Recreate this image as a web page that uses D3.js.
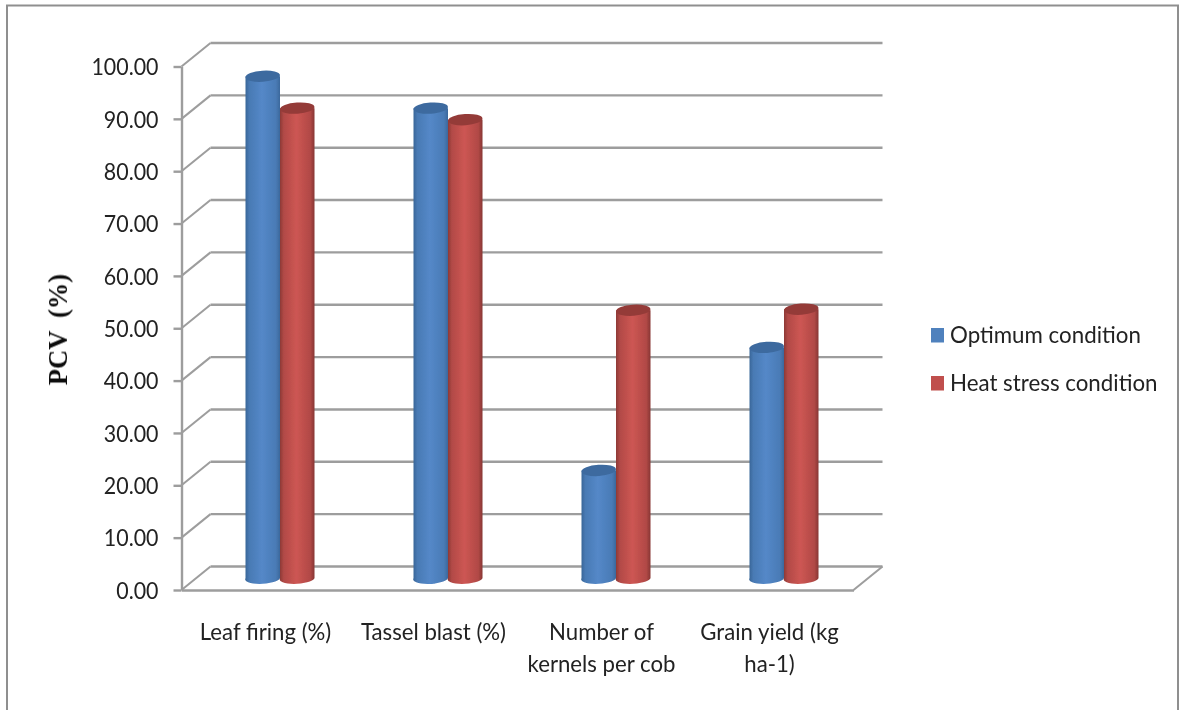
<!DOCTYPE html>
<html>
<head>
<meta charset="utf-8">
<title>PCV chart</title>
<script src="https://cdnjs.cloudflare.com/ajax/libs/d3/7.8.5/d3.min.js"></script>
<style>
  body { margin: 0; background: #fff; }
  svg { display: block; }
</style>
</head>
<body>
<div id="chart-area"></div>
<script>
// values
var categories = ["Leaf firing (%)", "Tassel blast (%)", "Number of kernels per cob", "Grain yield (kg ha-1)"];
var categoryLines = [["Leaf firing (%)"], ["Tassel blast (%)"], ["Number of", "kernels per cob"], ["Grain yield (kg", "ha-1)"]];
var seriesNames = ["Optimum condition", "Heat stress condition"];
var optimum = [95.9, 89.8, 20.6, 44.1];
var heatStress = [89.8, 87.6, 51.2, 51.4];
var yTicks = [0, 10, 20, 30, 40, 50, 60, 70, 80, 90, 100];

var svgWidth = 1179;
var svgHeight = 710;
var font = "Lato, 'Open Sans', sans-serif";
var fontSize = 23;
var gridColor = "#9d9d9d";
var textColor = "#222";

// 3d offset of the back wall, bars stand half way
var depthX = 29;
var depthY = 23.5;

var svg = d3.select("#chart-area").append("svg")
	.attr("width", svgWidth)
	.attr("height", svgHeight);

var defs = svg.append("defs");
defs.append("filter").attr("id", "soft")
	.append("feGaussianBlur").attr("stdDeviation", 0.5);

function addGradient(id, edgeL, mid, edgeR) {
	var g = defs.append("linearGradient").attr("id", id);
	g.append("stop").attr("offset", "0%").attr("stop-color", edgeL);
	g.append("stop").attr("offset", "12%").attr("stop-color", d3.interpolateRgb(edgeL, mid)(0.6));
	g.append("stop").attr("offset", "48%").attr("stop-color", mid);
	g.append("stop").attr("offset", "88%").attr("stop-color", d3.interpolateRgb(edgeR, mid)(0.6));
	g.append("stop").attr("offset", "100%").attr("stop-color", edgeR);
}
addGradient("blueBar", "#386596", "#5488c8", "#3b689c");
addGradient("redBar", "#8a3735", "#cd5653", "#873533");

var seriesStyle = [
	{ fill: "url(#blueBar)", top: "#3e6b9f", swatch: "#4f81bd", values: optimum },
	{ fill: "url(#redBar)", top: "#943b39", swatch: "#c0504d", values: heatStress }
];

// the reference font is narrower than Lato, squeeze text to fit
function squeeze(selection, factor) {
	selection.each(function() {
		d3.select(this)
			.attr("lengthAdjust", "spacingAndGlyphs")
			.attr("textLength", this.getComputedTextLength() * factor);
	});
}

// frame, open at the bottom
svg.append("path")
	.attr("d", "M7,710V5.5H1178V710")
	.attr("fill", "none")
	.attr("stroke", "#8f8f8f")
	.attr("stroke-width", 2);

var chart = svg.append("g").attr("filter", "url(#soft)");

// scales
var yScale = d3.scaleLinear().domain([0, 100]).range([590, 66.5]);
var xFront = d3.scaleBand().domain(categories).range([181.5, 853.5]);
var xSeries = d3.scaleBand().domain(seriesNames).range([49.5, 118.5]);

// back wall gridlines and the slanted side lines
var grid = chart.append("g").attr("class", "grid");
grid.selectAll("line.back").data(yTicks).enter().append("line")
	.attr("class", "back")
	.attr("x1", xFront.range()[0] + depthX)
	.attr("x2", xFront.range()[1] + depthX)
	.attr("y1", d => yScale(d) - depthY)
	.attr("y2", d => yScale(d) - depthY)
	.attr("stroke", gridColor)
	.attr("stroke-width", 2.4);
grid.selectAll("line.side").data(yTicks).enter().append("line")
	.attr("class", "side")
	.attr("x1", xFront.range()[0])
	.attr("x2", xFront.range()[0] + depthX)
	.attr("y1", d => yScale(d))
	.attr("y2", d => yScale(d) - depthY)
	.attr("stroke", gridColor)
	.attr("stroke-width", 2);
grid.append("line")
	.attr("x1", xFront.range()[1])
	.attr("x2", xFront.range()[1] + depthX)
	.attr("y1", yScale(0))
	.attr("y2", yScale(0) - depthY)
	.attr("stroke", gridColor)
	.attr("stroke-width", 2);

// y axis
var yAxisCall = d3.axisLeft(yScale)
	.tickValues(yTicks)
	.tickFormat(d => d.toFixed(2))
	.tickSize(8)
	.tickSizeOuter(0)
	.tickPadding(15);
var yAxis = chart.append("g")
	.attr("class", "y-axis")
	.attr("transform", "translate(" + xFront.range()[0] + ",0)")
	.call(yAxisCall);
yAxis.select(".domain").attr("stroke", gridColor).attr("stroke-width", 2.4);
yAxis.selectAll(".tick line").attr("stroke", gridColor).attr("stroke-width", 2.4);
yAxis.selectAll("text")
	.attr("font-family", font)
	.attr("font-size", fontSize)
	.attr("fill", textColor)
	.attr("dy", "0.36em")
	.call(squeeze, 0.93);

// x axis, labels are broken over lines by hand
var xAxisCall = d3.axisBottom(xFront).tickSize(0).tickSizeOuter(0).tickFormat("");
var xAxis = chart.append("g")
	.attr("class", "x-axis")
	.attr("transform", "translate(0," + yScale(0) + ")")
	.call(xAxisCall);
xAxis.select(".domain").attr("stroke", gridColor).attr("stroke-width", 2.4);
xAxis.selectAll(".tick text")
	.attr("font-family", font)
	.attr("font-size", fontSize)
	.attr("fill", textColor)
	.attr("text-anchor", "middle")
	.attr("y", 50)
	.attr("dy", 0)
	.each(function(d, i) {
		var t = d3.select(this);
		categoryLines[i].forEach(function(line, j) {
			t.append("tspan").attr("x", 0).attr("y", 50 + j * 32).text(line);
		});
	});
xAxis.selectAll(".tick tspan").call(squeeze, 0.965);

// cylinders
var rx = xSeries.bandwidth() / 2;
var ry = 5.6;
var tilt = -4;
var yMid = v => yScale(v) - depthY / 2;

seriesStyle.forEach(function(s, k) {
	var bars = chart.append("g").attr("class", "series-" + k)
		.selectAll("g").data(s.values).enter().append("g")
		.attr("transform", (d, i) => "translate(" + (xFront(categories[i]) + xSeries(seriesNames[k]) + rx + depthX / 2) + ",0)");

	bars.append("path")
		.attr("d", d => "M" + (-rx) + "," + yMid(d) +
			"V" + yMid(0) +
			"A" + rx + "," + ry + "," + tilt + ",0,0," + rx + "," + yMid(0) +
			"V" + yMid(d) + "Z")
		.attr("fill", s.fill);

	bars.append("ellipse")
		.attr("rx", rx)
		.attr("ry", ry)
		.attr("transform", d => "translate(0," + yMid(d) + ") rotate(" + tilt + ")")
		.attr("fill", s.top);
});

// y axis title
chart.append("text")
	.attr("transform", "translate(67,329.5) rotate(-90)")
	.attr("text-anchor", "middle")
	.attr("font-family", "'Liberation Serif', serif")
	.attr("font-weight", "bold")
	.attr("font-size", 26.5)
	.attr("fill", "#111")
	.style("white-space", "pre")
	.text("PCV  (%)");

// legend
var legend = chart.append("g").attr("class", "legend")
	.selectAll("g").data(seriesNames).enter().append("g")
	.attr("transform", (d, i) => "translate(931," + (328 + i * 48) + ")");
legend.append("rect")
	.attr("width", 13)
	.attr("height", 14.5)
	.attr("fill", (d, i) => seriesStyle[i].swatch);
legend.append("text")
	.attr("x", 19)
	.attr("y", 15)
	.attr("font-family", font)
	.attr("font-size", fontSize)
	.attr("fill", textColor)
	.text(d => d)
	.call(squeeze, 0.97);
</script>
</body>
</html>
